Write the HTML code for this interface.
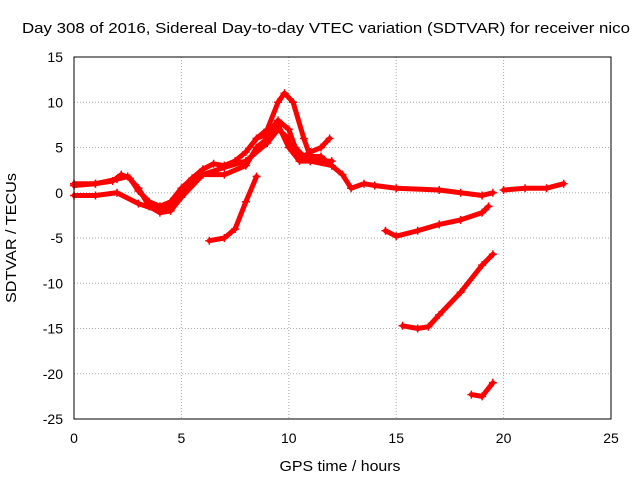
<!DOCTYPE html>
<html><head><meta charset="utf-8">
<style>
html,body{margin:0;padding:0;background:#fff;}
svg{display:block;font-family:"Liberation Sans",sans-serif;}
</style></head>
<body>
<svg id="chart" width="640" height="480" viewBox="0 0 640 480">
<text x="22" y="33" font-size="15" textLength="608" lengthAdjust="spacingAndGlyphs">Day 308 of 2016, Sidereal Day-to-day VTEC variation (SDTVAR) for receiver nico</text>
<text x="279.5" y="471" font-size="15" textLength="121" lengthAdjust="spacingAndGlyphs">GPS time / hours</text>
<text transform="translate(16,303) rotate(-90)" font-size="15" textLength="130" lengthAdjust="spacingAndGlyphs">SDTVAR / TECUs</text>
<g id="grid"></g><g id="ticks"></g><g id="series"></g>
<rect x="74" y="57" width="537" height="362" fill="none" stroke="#000" stroke-width="1"/>
</svg>
<script>
const xTicks=[0,5,10,15,20,25];
const yTicks=[15,10,5,0,-5,-10,-15,-20,-25];
const s1=[[0,1],[1,1],[1.8,1.3],[2.2,2],[2.6,1.6],[3,0.2],[3.5,-1],[4,-1.5],[4.5,-1],[5,0.5],[5.5,1.6],[6,2.6],[6.5,3.2],[7,3],[7.5,3.5],[8,4.5],[8.5,6],[9,6.5],[9.5,8],[10,7],[10.3,5],[10.7,4],[11,4.5],[11.5,5],[11.9,6]];
const s2=[[0,-0.3],[1,-0.3],[2,0],[3,-1.2],[4,-2],[4.5,-1.5],[5,0],[5.5,1],[6,2],[7,2],[8,3],[8.5,5],[9,6],[9.5,7.5],[10,5],[10.5,3.5],[11,3.5],[12,3],[12.5,2],[12.9,0.5],[13.5,1],[14,0.8],[15,0.5],[17,0.3],[18,0],[19,-0.3],[19.5,0]];
const s3=[[8.5,6],[9,7],[9.5,10],[9.8,11],[10.2,10],[10.7,6],[11,4],[11.5,4],[12,3]];
const s4=[[6.3,-5.3],[7,-5],[7.5,-4],[8,-1],[8.5,1.8]];
const s5=[[14.5,-4.2],[15,-4.8],[16,-4.2],[17,-3.5],[18,-3],[19,-2.2],[19.3,-1.5]];
const s6=[[15.3,-14.7],[16,-15],[16.5,-14.8],[17,-13.5],[18,-11],[19,-8],[19.5,-6.8]];
const s7=[[18.5,-22.3],[19,-22.5],[19.5,-21]];
const s8=[[20,0.3],[21,0.5],[22,0.5],[22.8,1]];
const s9=[[0,0.8],[1,1],[2,1.5],[2.5,1.8],[3,0.5],[3.5,-1.5],[4,-2.2],[4.5,-2],[5,-0.5],[6,2],[7,2.8],[8,3.5],[9,5.5],[9.5,7],[10,6],[10.5,4],[11,3.5],[12,3.5]];
const seriesList=[s1,s2,s3,s4,s5,s6,s7,s8,s9];
const X=v=>74+v*(537/25);
const Y=v=>57+(15-v)*(362/40);
const NS="http://www.w3.org/2000/svg";
const grid=document.getElementById('grid'),ticks=document.getElementById('ticks'),ser=document.getElementById('series');
function mk(tag,at,parent){const e=document.createElementNS(NS,tag);for(const k in at)e.setAttribute(k,at[k]);parent.appendChild(e);return e;}
xTicks.forEach(t=>{
  const x=X(t);
  if(t>0&&t<25){const g=mk('line',{x1:x,x2:x,y1:57,y2:419,stroke:'#aaa','stroke-dasharray':'1,2'},grid);
  
  }
  const l=mk('text',{x:x,y:443,'font-size':14,'text-anchor':'middle'},ticks);l.textContent=t;
  
  
});
yTicks.forEach(t=>{
  const y=Y(t);
  if(t<15&&t>-25){const g=mk('line',{x1:74,x2:611,y1:y,y2:y,stroke:'#aaa','stroke-dasharray':'1,2'},grid);
  
  }
  const l=mk('text',{x:63,y:y+5,'font-size':14,'text-anchor':'end'},ticks);l.textContent=t;
  
  
});
seriesList.forEach((s,i)=>{
  const p=mk('polyline',{points:s.map(d=>X(d[0])+','+Y(d[1])).join(' '),fill:'none',stroke:'#f00','stroke-width':5,'stroke-linejoin':'round','stroke-linecap':'round'},ser);
  
  
  s.forEach(d=>{
    const m=mk('path',{d:`M${X(d[0])-4},${Y(d[1])}h8M${X(d[0])},${Y(d[1])-4}v8`,stroke:'#f00','stroke-width':1.5},ser);
    
    
  });
});
</script>
</body></html>
